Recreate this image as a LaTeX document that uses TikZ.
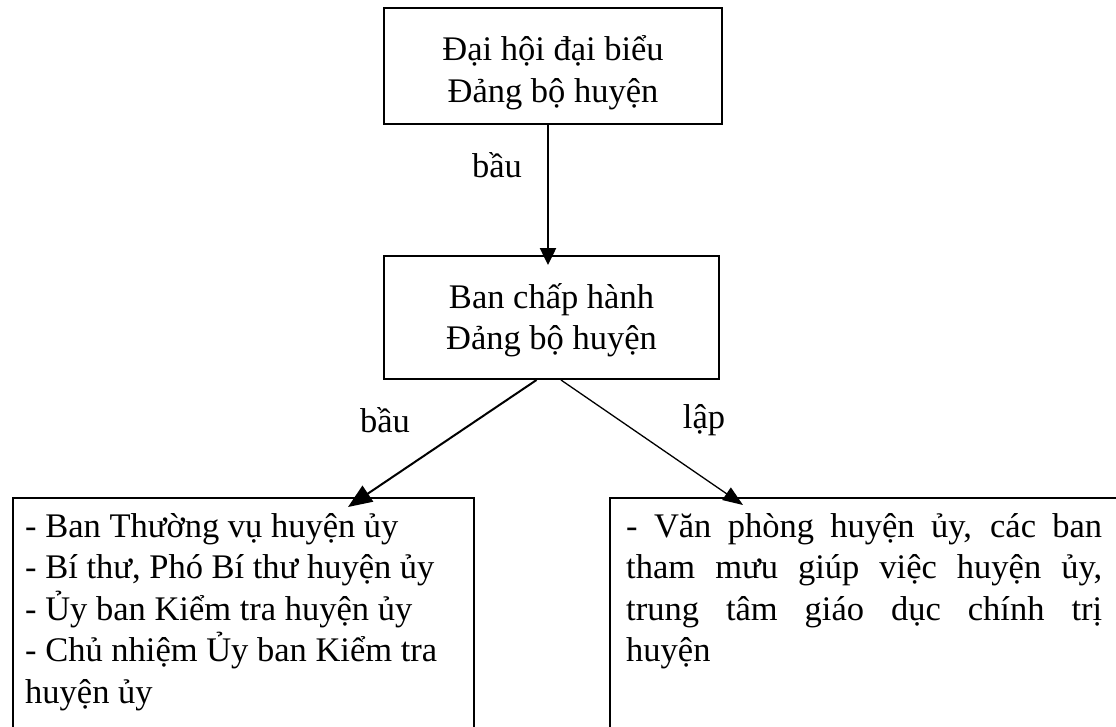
\documentclass[tikz,border=0pt]{standalone}
\usepackage{fontspec}
\setmainfont{Liberation Serif}
\usetikzlibrary{arrows.meta}
\begin{document}
\begin{tikzpicture}[x=1pt,y=-1pt,
  bigfont/.style={font=\fontsize{34.5pt}{41.5pt}\selectfont},
  box/.style={draw, line width=2pt, inner sep=0pt, bigfont},
  txt/.style={inner sep=0pt, bigfont},
  lbl/.style={inner sep=0pt, bigfont}
]
\clip (0,0) rectangle (1116,726);

% upper levels
\node[box, minimum width=338pt, minimum height=116pt, align=center] (dh) at (553,66)
  {\rule{0pt}{38pt}Đại hội đại biểu\\Đảng bộ huyện};
\node[box, minimum width=335pt, minimum height=123pt, align=center] (bch) at (551.5,317.5)
  {\rule{0pt}{30pt}Ban chấp hành\\Đảng bộ huyện};

% lower boxes (open at the bottom of the page)
\node[box, anchor=north west, minimum width=461pt, minimum height=280pt] (tv) at (12,497) {};
\node[box, anchor=north west, minimum width=540pt, minimum height=280pt] (vp) at (609,497) {};

\node[txt, anchor=north west, align=left] (tvtext) at ([xshift=13pt,yshift=-4pt]tv.north west)
  {\rule{0pt}{36pt}- Ban Thường vụ huyện ủy\\
   - Bí thư, Phó Bí thư huyện ủy\\
   - Ủy ban Kiểm tra huyện ủy\\
   - Chủ nhiệm Ủy ban Kiểm tra\\
   huyện ủy};
\node[txt, anchor=north west, align=left] (vptext) at ([xshift=17pt,yshift=-4pt]vp.north west)
  {\rule{0pt}{36pt}\makebox[476pt][s]{- Văn phòng huyện ủy, các ban}\\
   \makebox[476pt][s]{tham mưu giúp việc huyện ủy,}\\
   \makebox[476pt][s]{trung tâm giáo dục chính trị}\\
   huyện};

% connectors
\draw[line width=2.5pt, -{Triangle[length=17pt,width=16pt]}]
  ([xshift=-5pt]dh.south) -- ([xshift=-3.5pt,yshift=-10pt]bch.north);
\draw[line width=2pt, -{Triangle[length=24pt,width=19pt]}]
  ([xshift=-15pt]bch.south) -- ([xshift=336pt,yshift=-10pt]tv.north west);
\draw[line width=1.3pt, -{Triangle[length=20pt,width=15pt]}]
  ([xshift=9.5pt]bch.south) -- ([xshift=134pt,yshift=-8pt]vp.north west);

% connector labels
\node[lbl] (l1) at (497,165) {bầu};
\node[lbl] (l2) at (385,420) {bầu};
\node[lbl] (l3) at (704,420) {lập};
\end{tikzpicture}
\end{document}
